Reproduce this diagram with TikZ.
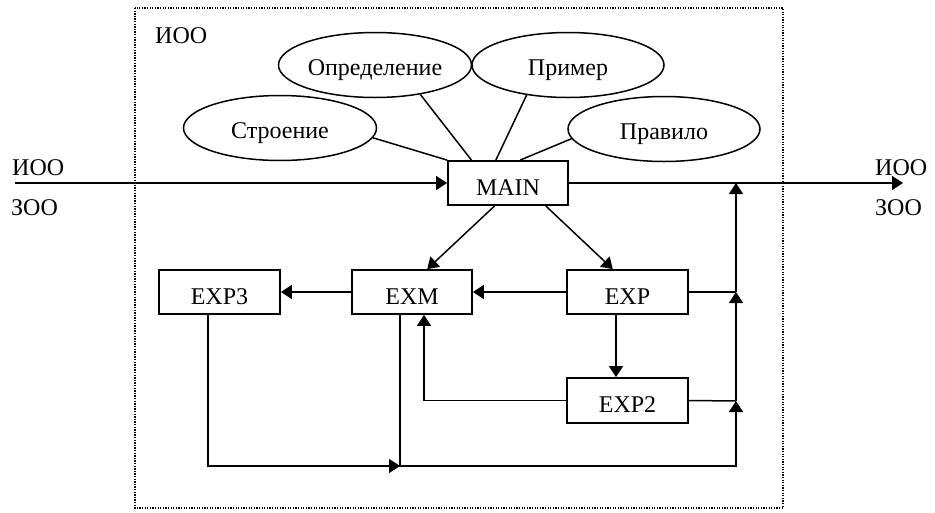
\documentclass[tikz,border=0pt]{standalone}
\usepackage{fontspec}
\setmainfont{Liberation Serif}
\usetikzlibrary{arrows.meta,shapes.geometric,calc}
\begin{document}
\begin{tikzpicture}[x=1pt,y=-1pt,
  every node/.style={font=\fontsize{24}{28}\selectfont},
  box/.style={draw,line width=1.8pt,rectangle,inner sep=0pt,text height=24pt,text depth=0pt,minimum width=120pt,minimum height=44pt},
  oval/.style={draw,line width=1.5pt,ellipse,inner sep=0pt,text height=20pt,text depth=0pt,minimum width=193pt,minimum height=65pt},
  lab/.style={inner sep=0pt,anchor=base west},
  ln/.style={line width=1.5pt},
  arr/.style={line width=1.5pt,-{Triangle[length=11pt,width=14pt]}}]
\useasboundingbox (0,0) rectangle (935,512);
\draw[line width=1.3pt,dash pattern=on 1.3pt off 1.3pt] (135,8) rectangle (783,508);
\node[lab] (inner) at (155,43) {ИОО};
% ellipses
\node[oval] (str) at (280,128) {Строение};
\node[oval] (opr) at (375,65) {Определение};
\node[oval,minimum width=192pt] (prim) at (568,65) {Пример};
\node[oval,minimum width=192pt] (prav) at (664,129) {Правило};
% boxes
\node[box] (main) at (508,183) {MAIN};
\node[box,minimum width=121pt] (exp3) at (219.5,292) {EXP3};
\node[box] (exm) at (412,292) {EXM};
\node[box,minimum width=121pt] (exp) at (627.5,292) {EXP};
\node[box,minimum width=121pt,minimum height=45pt] (exp2) at (627.5,400.5) {EXP2};
% side labels
\node[lab] (inL) at (12,175) {ИОО};
\node[lab] (zoL) at (11,215) {ЗОО};
\node[lab] (inR) at (875,175) {ИОО};
\node[lab] (zoR) at (875,215) {ЗОО};
% coordinates
\coordinate (startL) at (15,183);
\coordinate (endR) at (903,183);
\coordinate (j1) at (736,183);
\coordinate (j2) at (736,292);
\coordinate (j3) at (736,401);
\coordinate (j4) at (736,466);
\coordinate (b2) at (400,466);
% ellipse connectors
\draw[ln] (str.-6.5) -- (main.north west);
\draw[ln] (opr.-33) -- ($(main.north west)!0.2!(main.north east)$);
\draw[ln] (prim.-144.7) -- ($(main.north west)!0.4!(main.north east)$);
\draw[ln] (prav.186) -- ($(main.north west)!0.6!(main.north east)$);
% main flow
\draw[arr] (startL) -- (main.west);
\draw[arr] (main.east) -- (endR);
\draw[arr] ($(main.south west)!0.39!(main.south east)$) -- ($(exm.north west)!0.625!(exm.north east)$);
\draw[arr] ($(main.south west)!0.81!(main.south east)$) -- ($(exp.north west)!0.38!(exp.north east)$);
\draw[arr] (exp.west) -- (exm.east);
\draw[arr] (exm.west) -- (exp3.east);
\draw[arr] ([xshift=-11.5pt]exp.south) -- ([xshift=-11.5pt]exp2.north);
\draw[arr] (exp2.west) -| ([xshift=12pt]exm.south);
\draw[arr] ([xshift=-11.5pt]exp3.south) |- (b2);
\draw[arr] ([xshift=-12pt]exm.south) -- (b2) -- (j4) -- (j3);
\draw[ln] (exp2.east) -- (j3);
\draw[arr] (j3) -- (j2);
\draw[ln] (exp.east) -- (j2);
\draw[arr] (j2) -- (j1);
\end{tikzpicture}
\end{document}
